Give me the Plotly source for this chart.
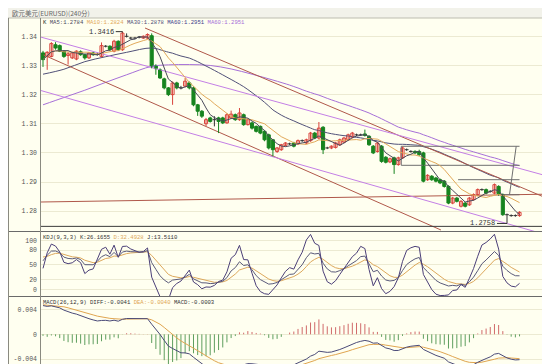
import plotly.graph_objects as go
import pandas as pd

# ---------------- data ----------------
opens = [1.3343,1.3331,1.3331,1.3371,1.3368,1.3349,1.3334,1.3326,1.3322,1.3347,
         1.3337,1.3326,1.3343,1.3338,1.3331,1.3366,1.3366,1.3349,1.3383,1.3354,
         1.3400,1.3394,1.3394,1.3397,1.3394,1.3394,1.3402,1.3300,1.3285,1.3254,
         1.3223,1.3200,1.3240,1.3223,1.3229,1.3240,1.3223,1.3165,1.3143,1.3100,
         1.3120,1.3114,1.3120,1.3120,1.3103,1.3120,1.3131,1.3114,1.3131,1.3097,
         1.3103,1.3091,1.3091,1.3074,1.3062,1.3045,1.3005,1.3011,1.3026,1.3031,
         1.3034,1.3031,1.3042,1.3034,1.3042,1.3068,1.3051,1.3088,1.3017,1.3017,
         1.3019,1.3028,1.3037,1.3045,1.3054,1.3062,1.3062,1.3065,1.3057,1.3023,
         1.3005,1.3023,1.2985,1.2969,1.2983,1.2960,1.2983,1.3011,1.3005,1.3005,
         1.3005,1.3000,1.2908,1.2920,1.2914,1.2908,1.2903,1.2885,1.2828,1.2845,
         1.2817,1.2828,1.2822,1.2840,1.2857,1.2874,1.2874,1.2868,1.2862,1.2885,
         1.2857,1.2788,1.2785,1.2785,1.2785]
highs = [1.3350,1.3349,1.3380,1.3380,1.3372,1.3352,1.3346,1.3347,1.3352,1.3352,
         1.3340,1.3346,1.3346,1.3343,1.3379,1.3370,1.3369,1.3388,1.3386,1.3416,
         1.3410,1.3398,1.3398,1.3401,1.3403,1.3410,1.3410,1.3304,1.3290,1.3258,
         1.3226,1.3245,1.3244,1.3230,1.3257,1.3245,1.3228,1.3168,1.3147,1.3120,
         1.3124,1.3126,1.3124,1.3124,1.3136,1.3145,1.3135,1.3154,1.3135,1.3118,
         1.3107,1.3094,1.3094,1.3078,1.3066,1.3048,1.3020,1.3031,1.3037,1.3035,
         1.3038,1.3046,1.3046,1.3049,1.3072,1.3072,1.3106,1.3092,1.3021,1.3026,
         1.3038,1.3049,1.3055,1.3066,1.3072,1.3066,1.3066,1.3080,1.3061,1.3027,
         1.3038,1.3027,1.2989,1.2984,1.2987,1.2987,1.3021,1.3015,1.3009,1.3009,
         1.3011,1.3004,1.2927,1.2924,1.2918,1.2912,1.2907,1.2889,1.2849,1.2849,
         1.2838,1.2832,1.2849,1.2861,1.2878,1.2878,1.2878,1.2872,1.2895,1.2889,
         1.2861,1.2792,1.2789,1.2789,1.2800]
lows = [1.3295,1.3285,1.3328,1.3354,1.3346,1.3326,1.3303,1.3322,1.3318,1.3333,
        1.3320,1.3322,1.3333,1.3334,1.3328,1.3362,1.3350,1.3345,1.3350,1.3350,
        1.3396,1.3390,1.3390,1.3393,1.3391,1.3391,1.3290,1.3268,1.3254,1.3218,
        1.3195,1.3165,1.3218,1.3218,1.3225,1.3218,1.3160,1.3127,1.3120,1.3092,
        1.3104,1.3091,1.3068,1.3099,1.3100,1.3117,1.3110,1.3110,1.3093,1.3094,
        1.3080,1.3070,1.3064,1.3040,1.3012,1.2988,1.3000,1.3007,1.3022,1.3027,
        1.3019,1.3027,1.3038,1.3030,1.3038,1.3047,1.3047,1.2996,1.3013,1.3013,
        1.3015,1.3024,1.3033,1.3041,1.3050,1.3058,1.3058,1.3056,1.3024,1.2996,
        1.3001,1.2966,1.2964,1.2965,1.2928,1.2956,1.2979,1.3007,1.3001,1.2996,
        1.2990,1.2899,1.2904,1.2904,1.2899,1.2893,1.2881,1.2824,1.2824,1.2830,
        1.2813,1.2813,1.2818,1.2836,1.2853,1.2870,1.2858,1.2864,1.2858,1.2853,
        1.2784,1.2758,1.2781,1.2781,1.2781]
closes = [1.3320,1.3345,1.3375,1.3360,1.3349,1.3331,1.3340,1.3343,1.3349,1.3337,
          1.3326,1.3343,1.3337,1.3338,1.3368,1.3366,1.3354,1.3383,1.3354,1.3411,
          1.3400,1.3394,1.3394,1.3397,1.3400,1.3406,1.3297,1.3289,1.3257,1.3223,
          1.3200,1.3240,1.3223,1.3223,1.3246,1.3223,1.3165,1.3143,1.3126,1.3114,
          1.3108,1.3114,1.3108,1.3103,1.3131,1.3133,1.3114,1.3137,1.3097,1.3114,
          1.3085,1.3074,1.3068,1.3045,1.3017,1.3011,1.3017,1.3028,1.3034,1.3031,
          1.3023,1.3042,1.3042,1.3045,1.3068,1.3051,1.3085,1.3011,1.3017,1.3023,
          1.3034,1.3045,1.3051,1.3062,1.3068,1.3062,1.3062,1.3060,1.3028,1.3000,
          1.3034,1.2971,1.2968,1.2980,1.2960,1.2983,1.3017,1.3011,1.3005,1.3000,
          1.2994,1.2903,1.2923,1.2908,1.2903,1.2897,1.2885,1.2828,1.2845,1.2834,
          1.2834,1.2817,1.2845,1.2857,1.2874,1.2874,1.2862,1.2868,1.2891,1.2857,
          1.2788,1.2788,1.2785,1.2785,1.2796]

# MA30 / MA60 values read before enough bars exist for the rolling mean
ma30_early_idx = [0, 5, 10, 15, 20, 26]
ma30_early_val = [1.3270, 1.3287, 1.3313, 1.3330, 1.3345, 1.3360]
ma60_early_idx = [0, 5, 10, 15, 20, 26, 30, 35, 40, 45, 50, 55]
ma60_early_val = [1.3165, 1.3190, 1.3215, 1.3242, 1.3268, 1.3297,
                  1.3302, 1.3303, 1.3300, 1.3288, 1.3270, 1.3250]

# indicator starting states read from the left edge of the lower panels
kdj_k_start, kdj_d_start = 65.0, 70.0
ema12_start, ema26_start, dea_start = 1.3318, 1.3268, 0.0048

# drawn trend lines: (index0, price0, index1, price1)
brown_lines = [(24.4, 1.34285, 123.2, 1.28282),
               (0.0, 1.33369, 95.2, 1.27355),
               (-0.5, 1.28316, 123.2, 1.28590)]
purple_lines = [(-1.2, 1.34000, 123.2, 1.29105),
                (-1.2, 1.32168, 123.2, 1.27076)]
gray_lines = [(85.7, 1.30227, 114.0, 1.30227),
              (85.7, 1.29575, 114.0, 1.29575),
              (85.7, 1.30227, 85.7, 1.29575),
              (99.3, 1.29081, 114.0, 1.29081),
              (109.6, 1.28566, 114.0, 1.28566),
              (113.2, 1.30226, 111.6, 1.28566)]
dark_lines = [(-1.0, 1.2748, 124.0, 1.2748)]

high_label, low_label = "1.3416", "1.2758"
high_bar, low_bar = 19, 111

price_ticks = [1.28, 1.29, 1.30, 1.31, 1.32, 1.33, 1.34]
price_ticktext = ["1.28", "1.29", "1.30", "1.31", "1.32", "1.33", "1.34"]
kdj_ticks = [0, 20, 50, 80, 100]
macd_ticks = [-0.004, 0, 0.004]
macd_ticktext = ["-0.004", "0", "0.004"]

title_text = "欧元美元(EURUSD)(240分)"
hdr_ma = ["K", "MA5:1.2784", "MA10:1.2824", "MA30:1.2878", "MA60:1.2951", "MA60:1.2951"]
hdr_kdj = ["KDJ(9,3,3) K:26.1655", "D:32.4928", "J:13.5110"]
hdr_macd = ["MACD(26,12,9) DIFF:-0.0041", "DEA:-0.0040", "MACD:-0.0003"]

# ---------------- derived series ----------------
n = len(closes)
idx = list(range(n))
cs = pd.Series(closes)
ma5 = cs.rolling(5, min_periods=1).mean()
ma10 = cs.rolling(10, min_periods=1).mean()
r30 = cs.rolling(30).mean()
r60 = cs.rolling(60).mean()
ma30_x = ma30_early_idx + list(range(29, n))
ma30_y = ma30_early_val + list(r30[29:])
ma60_x = ma60_early_idx + list(range(59, n))
ma60_y = ma60_early_val + list(r60[59:])

llv = pd.Series(lows).rolling(9, min_periods=1).min()
hhv = pd.Series(highs).rolling(9, min_periods=1).max()
K, D, J = [], [], []
k, d = kdj_k_start, kdj_d_start
for c, lo, hi in zip(closes, llv, hhv):
    rsv = (c - lo) / (hi - lo) * 100 if hi > lo else 50
    k = (2 * k + rsv) / 3
    d = (2 * d + k) / 3
    K.append(k); D.append(d); J.append(3 * k - 2 * d)

DIF, DEA, HIST = [], [], []
e12, e26, dea = ema12_start, ema26_start, dea_start
for c in closes:
    e12 = (11 * e12 + 2 * c) / 13
    e26 = (25 * e26 + 2 * c) / 27
    dif = e12 - e26
    dea = (8 * dea + 2 * dif) / 10
    DIF.append(dif); DEA.append(dea); HIST.append(2 * (dif - dea))

# ---------------- styling ----------------
BG = "#FFFFF0"
UP = "#D9433B"
DN = "#17841F"
DOJI = "#333333"
C_MA5 = "#4A4A5A"
C_MA10 = "#E2A95A"
C_MA30 = "#505078"
C_MA60 = "#A66FD8"
C_BROWN = "#B0584A"
C_PURPLE = "#C47FE6"
C_GRAY = "#6E6E6E"
GRID = "#ECEAD2"
TXT = "#555555"
MONO = "Liberation Mono, DejaVu Sans Mono, monospace"

fig = go.Figure()

up = [i for i in idx if closes[i] > opens[i]]
dn = [i for i in idx if closes[i] < opens[i]]
dj = [i for i in idx if closes[i] == opens[i]]


def wick_xy(ids):
    xs, ys = [], []
    for i in ids:
        xs += [i, i, None]
        ys += [lows[i], highs[i], None]
    return xs, ys


# moving averages & trend lines drawn under the candles
fig.add_trace(go.Scatter(x=ma60_x, y=ma60_y, mode="lines", line=dict(color=C_MA60, width=1, shape="spline"),
                         xaxis="x", yaxis="y", hoverinfo="skip"))
fig.add_trace(go.Scatter(x=ma30_x, y=ma30_y, mode="lines", line=dict(color=C_MA30, width=1, shape="spline"),
                         xaxis="x", yaxis="y", hoverinfo="skip"))
for group, col in ((brown_lines, C_BROWN), (purple_lines, C_PURPLE),
                   (gray_lines, C_GRAY), (dark_lines, "#3A3A3A")):
    xs, ys = [], []
    for x0, y0, x1, y1 in group:
        xs += [x0, x1, None]
        ys += [y0, y1, None]
    fig.add_trace(go.Scatter(x=xs, y=ys, mode="lines", line=dict(color=col, width=1),
                             xaxis="x", yaxis="y", hoverinfo="skip"))

for ids, col in ((up, UP), (dn, DN), (dj, DOJI)):
    wx, wy = wick_xy(ids)
    fig.add_trace(go.Scatter(x=wx, y=wy, mode="lines", line=dict(color=col, width=1),
                             xaxis="x", yaxis="y", hoverinfo="skip"))

fig.add_trace(go.Bar(x=up, base=[opens[i] for i in up],
                     y=[closes[i] - opens[i] for i in up], width=0.74,
                     marker=dict(color=BG, line=dict(color=UP, width=1)),
                     xaxis="x", yaxis="y", hoverinfo="skip"))
fig.add_trace(go.Bar(x=dn, base=[closes[i] for i in dn],
                     y=[opens[i] - closes[i] for i in dn], width=0.74,
                     marker=dict(color=DN, line=dict(color=DN, width=1)),
                     xaxis="x", yaxis="y", hoverinfo="skip"))
dx, dy = [], []
for i in dj:
    dx += [i - 0.45, i + 0.45, None]
    dy += [closes[i], closes[i], None]
fig.add_trace(go.Scatter(x=dx, y=dy, mode="lines", line=dict(color=DOJI, width=1),
                         xaxis="x", yaxis="y", hoverinfo="skip"))

fig.add_trace(go.Scatter(x=idx, y=ma10, mode="lines", line=dict(color=C_MA10, width=1),
                         xaxis="x", yaxis="y", hoverinfo="skip"))
fig.add_trace(go.Scatter(x=idx, y=ma5, mode="lines", line=dict(color=C_MA5, width=1),
                         xaxis="x", yaxis="y", hoverinfo="skip"))

# high / low markers
fig.add_trace(go.Scatter(x=[high_bar - 1.6, high_bar, high_bar, None, low_bar - 2.4, low_bar],
                         y=[highs[high_bar], highs[high_bar], highs[high_bar] - 0.0003, None,
                            lows[low_bar], lows[low_bar]],
                         mode="lines", line=dict(color="#333333", width=1),
                         xaxis="x", yaxis="y", hoverinfo="skip"))
fig.add_annotation(x=high_bar - 1.6, y=highs[high_bar], xref="x", yref="y", text=high_label,
                   showarrow=False, xanchor="right", yanchor="middle",
                   font=dict(family=MONO, size=7, color="#333333"))
fig.add_annotation(x=low_bar - 2.4, y=lows[low_bar], xref="x", yref="y", text=low_label,
                   showarrow=False, xanchor="right", yanchor="middle",
                   font=dict(family=MONO, size=7, color="#333333"))

# KDJ
for ser, col in ((D, "#DDA85C"), (K, "#5A5A7A"), (J, "#4B3F78")):
    fig.add_trace(go.Scatter(x=idx, y=ser, mode="lines", line=dict(color=col, width=1),
                             xaxis="x2", yaxis="y2", hoverinfo="skip"))

# MACD
hx_p, hy_p, hx_n, hy_n = [], [], [], []
for i, h in enumerate(HIST):
    if h >= 0:
        hx_p += [i, i, None]; hy_p += [0, h, None]
    else:
        hx_n += [i, i, None]; hy_n += [0, h, None]
fig.add_trace(go.Scatter(x=hx_p, y=hy_p, mode="lines", line=dict(color="#D06A6A", width=1),
                         xaxis="x3", yaxis="y3", hoverinfo="skip"))
fig.add_trace(go.Scatter(x=hx_n, y=hy_n, mode="lines", line=dict(color="#5E9E5E", width=1),
                         xaxis="x3", yaxis="y3", hoverinfo="skip"))
fig.add_trace(go.Scatter(x=idx, y=DEA, mode="lines", line=dict(color="#E0A550", width=1),
                         xaxis="x3", yaxis="y3", hoverinfo="skip"))
fig.add_trace(go.Scatter(x=idx, y=DIF, mode="lines", line=dict(color="#4A4A78", width=1),
                         xaxis="x3", yaxis="y3", hoverinfo="skip"))

# ---------------- layout ----------------
W, H = 550, 364
ML = 32
XR = [-0.72, 123.2]


def dom(top_px, bot_px):
    return [(H - bot_px) / H, (H - top_px) / H]


def px_x(x):
    return (x - ML) / (W - ML)


def px_y(y):
    return (H - y) / H


xcommon = dict(range=XR, showgrid=False, zeroline=False, showticklabels=False,
               ticks="", showline=False, fixedrange=True)
ycommon = dict(showgrid=True, gridcolor=GRID, gridwidth=1, zeroline=False, ticks="",
               showline=False, tickfont=dict(family=MONO, size=6.5, color=TXT),
               ticklabelstandoff=2, fixedrange=True)

fig.update_layout(
    width=W, height=H, margin=dict(l=ML, r=0, t=0, b=0),
    paper_bgcolor=BG, plot_bgcolor=BG, showlegend=False, barmode="overlay",
    hovermode=False,
    xaxis=dict(**xcommon, anchor="y"),
    xaxis2=dict(**xcommon, anchor="y2", matches="x"),
    xaxis3=dict(**xcommon, anchor="y3", matches="x"),
    yaxis=dict(**ycommon, domain=dom(10, 223), range=[1.27321, 1.34628],
               tickvals=price_ticks, ticktext=price_ticktext),
    yaxis2=dict(**ycommon, domain=dom(224, 288), range=[-12.8, 116.8],
                tickvals=kdj_ticks),
    yaxis3=dict(**ycommon, domain=dom(289, 363), range=[-0.00593, 0.00603],
                tickvals=macd_ticks, ticktext=macd_ticktext),
)

FR = "#8A8A80"
shapes = [
    dict(type="rect", xref="paper", yref="paper", x0=px_x(0), x1=px_x(550), y0=px_y(0), y1=px_y(10),
         fillcolor="#F2F2EA", line=dict(width=0), layer="below"),
    dict(type="line", xref="paper", yref="paper", x0=px_x(0), x1=px_x(550), y0=px_y(10), y1=px_y(10),
         line=dict(color="#BDBDB0", width=1)),
    dict(type="line", xref="paper", yref="paper", x0=px_x(0), x1=px_x(550), y0=px_y(223.5), y1=px_y(223.5),
         line=dict(color="#6A6A6A", width=1)),
    dict(type="line", xref="paper", yref="paper", x0=px_x(0), x1=px_x(550), y0=px_y(288.5), y1=px_y(288.5),
         line=dict(color="#6A6A6A", width=1)),
    dict(type="line", xref="paper", yref="paper", x0=px_x(0), x1=px_x(550), y0=px_y(363), y1=px_y(363),
         line=dict(color="#6A6A6A", width=1)),
    dict(type="line", xref="paper", yref="paper", x0=px_x(32.5), x1=px_x(32.5), y0=px_y(10), y1=px_y(363),
         line=dict(color=FR, width=1)),
    dict(type="line", xref="paper", yref="paper", x0=px_x(0.5), x1=px_x(0.5), y0=px_y(10), y1=px_y(363),
         line=dict(color=FR, width=1)),
]
fig.update_layout(shapes=shapes)

fig.add_annotation(x=px_x(2), y=px_y(5), xref="paper", yref="paper", text=title_text,
                   showarrow=False, xanchor="left", yanchor="middle",
                   font=dict(family="Noto Sans CJK SC", size=6.5, color="#666666"))

ma_cols = ["#222222", C_MA5, C_MA10, C_MA30, "#3E3E8A", C_MA60]
ma_hdr = " ".join(f"<span style='color:{c}'>{t}</span>" for t, c in zip(hdr_ma, ma_cols))
fig.add_annotation(x=px_x(33), y=px_y(15), xref="paper", yref="paper", text=ma_hdr,
                   showarrow=False, xanchor="left", yanchor="middle",
                   font=dict(family=MONO, size=5.6))

kdj_cols = ["#333333", "#DDA85C", "#333333"]
kdj_hdr = " ".join(f"<span style='color:{c}'>{t}</span>" for t, c in zip(hdr_kdj, kdj_cols))
fig.add_annotation(x=px_x(33), y=px_y(229), xref="paper", yref="paper", text=kdj_hdr,
                   showarrow=False, xanchor="left", yanchor="middle",
                   font=dict(family=MONO, size=5.6))

macd_cols = ["#333333", "#E0A550", "#333333"]
macd_hdr = " ".join(f"<span style='color:{c}'>{t}</span>" for t, c in zip(hdr_macd, macd_cols))
fig.add_annotation(x=px_x(33), y=px_y(294), xref="paper", yref="paper", text=macd_hdr,
                   showarrow=False, xanchor="left", yanchor="middle",
                   font=dict(family=MONO, size=5.6))

fig.write_html("out.html")
